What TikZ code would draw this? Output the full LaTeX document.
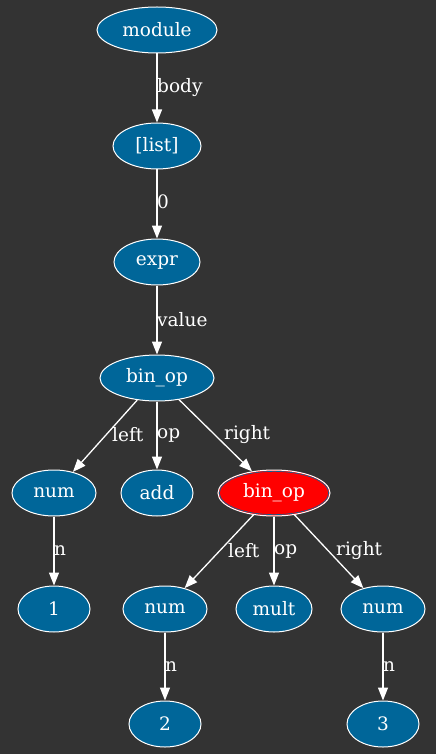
\documentclass[tikz,border=0pt]{standalone}
\usepackage{fontspec}
\setmainfont{DejaVu Serif}
\usetikzlibrary{shapes.geometric,arrows.meta}
\definecolor{bgdark}{HTML}{333333}
\definecolor{astblue}{HTML}{006699}
\tikzset{
  astnode/.style={ellipse,draw=white,fill=astblue,text=white,inner sep=0pt,
    minimum height=46pt,line width=1pt,font=\fontsize{18.5}{20}\selectfont},
  astedge/.style={draw=white,line width=1.3pt,-{Triangle[length=13pt,width=10pt]}},
  edgelbl/.style={text=white,font=\fontsize{18.5}{20}\selectfont,inner sep=1pt}
}
\begin{document}
\begin{tikzpicture}[x=1pt,y=-1pt]
  \fill[bgdark] (0,0) rectangle (436,754);
  \useasboundingbox (0,0) rectangle (436,754);
  % nodes
  \node[astnode,minimum width=120pt] (module) at (157,30) {module};
  \node[astnode,minimum width=88pt] (list) at (157,146) {[list]};
  \node[astnode,minimum width=86pt] (expr) at (157,262) {expr};
  \node[astnode,minimum width=114pt] (binop) at (157,378) {bin\_op};
  \node[astnode,minimum width=84pt] (numA) at (54,493) {num};
  \node[astnode,minimum width=72pt] (add) at (157,493) {add};
  \node[astnode,minimum width=112pt,fill=red] (binopB) at (274,493) {bin\_op};
  \draw[astblue,line width=0.6pt] (binopB.center) ellipse (54.6pt and 21.6pt);
  \node[astnode,minimum width=72pt] (one) at (54,609) {1};
  \node[astnode,minimum width=84pt] (numB) at (165,609) {num};
  \node[astnode,minimum width=76pt] (mult) at (274,609) {mult};
  \node[astnode,minimum width=84pt] (numC) at (383,609) {num};
  \node[astnode,minimum width=72pt] (two) at (165,724) {2};
  \node[astnode,minimum width=72pt] (three) at (383,724) {3};
  % edges
  \draw[astedge] (module) -- (list);
  \draw[astedge] (list) -- (expr);
  \draw[astedge] (expr) -- (binop);
  \draw[astedge] (binop) -- (numA);
  \draw[astedge] (binop) -- (add);
  \draw[astedge] (binop) -- (binopB);
  \draw[astedge] (numA) -- (one);
  \draw[astedge] (binopB) -- (numB);
  \draw[astedge] (binopB) -- (mult);
  \draw[astedge] (binopB) -- (numC);
  \draw[astedge] (numB) -- (two);
  \draw[astedge] (numC) -- (three);
  % edge labels
  \node[edgelbl,anchor=west] (lbody) at (156,88) {body};
  \node[edgelbl,anchor=west] (lzero) at (156,202) {0};
  \node[edgelbl,anchor=west] (lvalue) at (156,320) {value};
  \node[edgelbl,anchor=west] (lleftA) at (111,435) {left};
  \node[edgelbl,anchor=west] (lopA) at (156,435) {op};
  \node[edgelbl,anchor=west] (lrightA) at (223,435) {right};
  \node[edgelbl,anchor=west] (lnA) at (53,551) {n};
  \node[edgelbl,anchor=west] (lleftB) at (227,551) {left};
  \node[edgelbl,anchor=west] (lopB) at (273,551) {op};
  \node[edgelbl,anchor=west] (lrightB) at (335,551) {right};
  \node[edgelbl,anchor=west] (lnB) at (164,667) {n};
  \node[edgelbl,anchor=west] (lnC) at (382,667) {n};
\end{tikzpicture}
\end{document}
